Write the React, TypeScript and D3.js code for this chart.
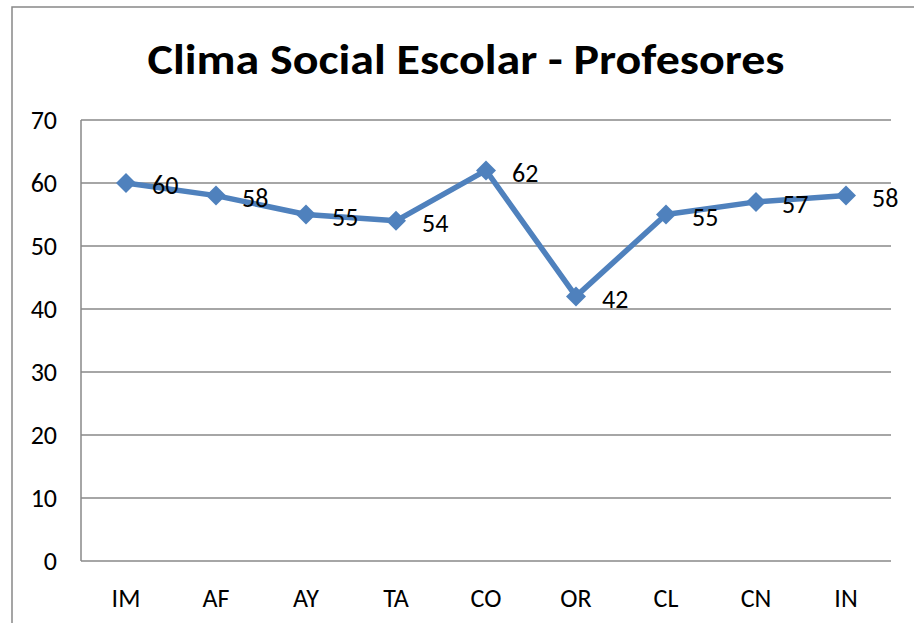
import React, { useRef, useEffect } from "react";
import * as d3 from "d3";

// chart data
const categories = ["IM", "AF", "AY", "TA", "CO", "OR", "CL", "CN", "IN"];
const values = [60, 58, 55, 54, 62, 42, 55, 57, 58];
const yTicks = [0, 10, 20, 30, 40, 50, 60, 70];
const title = "Clima Social Escolar - Profesores";

export default function App() {
  const svgRef = useRef<SVGSVGElement>(null);
  const width = 914;
  const height = 623;
  const marginLeft = 81;
  const marginRight = 23;
  const marginTop = 120;
  const marginBottom = 62;
  const font = "Carlito, 'Open Sans', 'Noto Sans', sans-serif";
  const blue = "#4F81BD";
  const gray = "#888888";

  useEffect(() => {
    const svg = d3.select(svgRef.current);
    svg.selectAll("*").remove();

    const x = d3.scaleBand()
      .domain(categories)
      .range([marginLeft, width - marginRight]);

    const y = d3.scaleLinear()
      .domain([0, 70])
      .range([height - marginBottom, marginTop]);

    // outer chart frame (extends past the right and bottom edges)
    svg.append("rect")
      .attr("x", 12)
      .attr("y", 7)
      .attr("width", width + 20)
      .attr("height", height + 20)
      .attr("fill", "white")
      .attr("stroke", gray)
      .attr("stroke-width", 1.5);

    // title
    svg.append("text")
      .attr("x", 466)
      .attr("y", 74)
      .attr("text-anchor", "middle")
      .attr("font-family", font)
      .attr("font-weight", "bold")
      .attr("font-size", 42)
      .attr("textLength", 637)
      .attr("lengthAdjust", "spacingAndGlyphs")
      .attr("fill", "#000")
      .text(title);

    // y gridlines
    svg.append("g")
      .selectAll("line")
      .data(yTicks)
      .join("line")
      .attr("x1", marginLeft)
      .attr("x2", width - marginRight)
      .attr("y1", d => y(d))
      .attr("y2", d => y(d))
      .attr("stroke", gray)
      .attr("stroke-width", 1.5);

    // y axis line
    svg.append("line")
      .attr("x1", marginLeft)
      .attr("x2", marginLeft)
      .attr("y1", y(0))
      .attr("y2", y(70))
      .attr("stroke", gray)
      .attr("stroke-width", 1.5);

    // y tick labels
    svg.append("g")
      .selectAll("text")
      .data(yTicks)
      .join("text")
      .attr("x", 57)
      .attr("y", d => y(d))
      .attr("dy", "0.35em")
      .attr("text-anchor", "end")
      .attr("font-family", font)
      .attr("font-size", 26)
      .text(d => d);

    // x tick labels
    svg.append("g")
      .selectAll("text")
      .data(categories)
      .join("text")
      .attr("x", d => x(d)! + x.bandwidth() / 2)
      .attr("y", 598)
      .attr("dy", "0.35em")
      .attr("text-anchor", "middle")
      .attr("font-family", font)
      .attr("font-size", 26)
      .text(d => d);

    const data = categories.map((c, i) => ({ c, v: values[i] }));
    const cx = (d: { c: string }) => x(d.c)! + x.bandwidth() / 2;

    // line
    svg.append("path")
      .datum(data)
      .attr("fill", "none")
      .attr("stroke", blue)
      .attr("stroke-width", 5.5)
      .attr("stroke-linejoin", "round")
      .attr("d", d3.line<{ c: string; v: number }>()
        .x(d => cx(d))
        .y(d => y(d.v)));

    // diamond markers
    svg.append("g")
      .selectAll("path")
      .data(data)
      .join("path")
      .attr("transform", d => `translate(${cx(d)},${y(d.v)})`)
      .attr("d", "M0,-10L10,0L0,10L-10,0Z")
      .attr("fill", blue);

    // data labels
    svg.append("g")
      .selectAll("text")
      .data(data)
      .join("text")
      .attr("x", d => cx(d) + 26)
      .attr("y", d => y(d.v) + 2)
      .attr("dy", "0.35em")
      .attr("font-family", font)
      .attr("font-size", 26)
      .text(d => d.v);
  }, []);

  return (
    <svg
      ref={svgRef}
      width={width}
      height={height}
      style={{ position: "absolute", left: 0, top: 0, background: "white" }}
    ></svg>
  );
}
